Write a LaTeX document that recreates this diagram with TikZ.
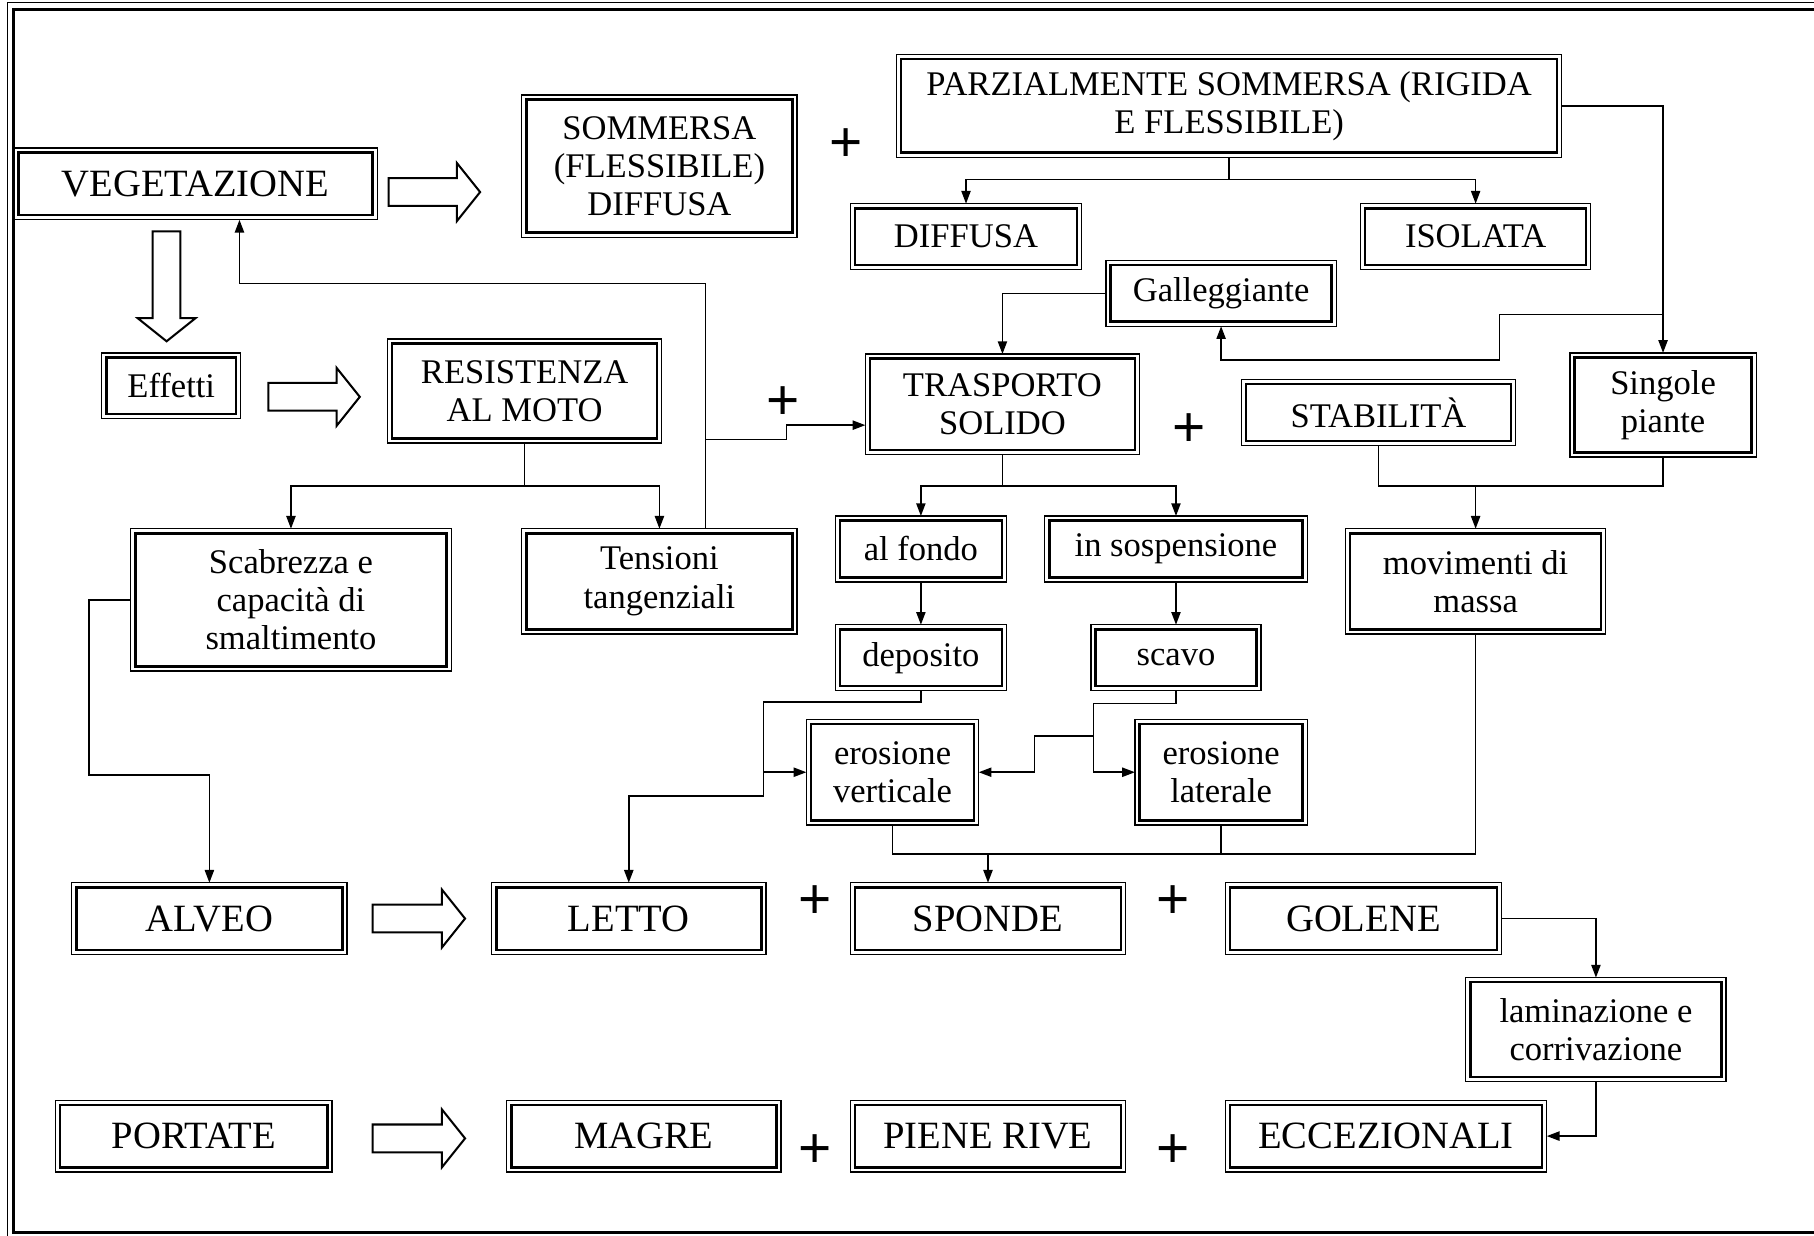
\documentclass[tikz,border=0pt]{standalone}
\usepackage{fontspec}
\setmainfont{Liberation Serif}
\setsansfont{Liberation Sans}
\usetikzlibrary{arrows.meta}

\tikzset{
	box/.style={draw, line width=0.62pt, outer sep=0.04cm, inner sep=0pt, align=center, font=\fontsize{8.5}{9.4}\selectfont},
	bigbox/.style={box, font=\fontsize{9.5}{10}\selectfont},
	link/.style={line width=0.37pt},
	arr/.style={link, -{Triangle[length=0.11cm,width=0.08cm]}},
	pics/blockarr/.style={code={
		\draw[line width=0.5pt, fill=white] (0,-0.12) -- (#1-0.2,-0.12) -- (#1-0.2,-0.25) -- (#1,0) -- (#1-0.2,0.25) -- (#1-0.2,0.12) -- (0,0.12) -- cycle;}}
}

\begin{document}
\begin{tikzpicture}[x=1cm, y=-1cm]
	\useasboundingbox (0,0) rectangle (15.68,10.68);
	% cornice
	\draw[line width=0.37pt] (0.065,10.68) -- (0.065,0.022) -- (15.68,0.022);
	\draw[line width=0.74pt] (15.68,0.078) -- (0.115,0.078) -- (0.115,10.657) -- (15.68,10.657);

	\node[bigbox, minimum width=3.06cm, minimum height=0.54cm] (veg) at (1.69,1.59) {VEGETAZIONE};
	\node[box, minimum width=2.30cm, minimum height=1.15cm] (somm) at (5.70,1.435) {SOMMERSA\\(FLESSIBILE)\\DIFFUSA};
	\node[box, minimum width=5.67cm, minimum height=0.81cm] (parz) at (10.625,0.915) {PARZIALMENTE SOMMERSA (RIGIDA\\E FLESSIBILE)};
	\node[box, minimum width=1.92cm, minimum height=0.49cm] (diff) at (8.35,2.045) {DIFFUSA};
	\node[box, minimum width=1.91cm, minimum height=0.49cm] (isol) at (12.755,2.045) {ISOLATA};
	\node[box, minimum width=1.91cm, minimum height=0.49cm] (gall) at (10.555,2.535) {Galleggiante};
	\node[box, minimum width=1.12cm, minimum height=0.49cm] (eff) at (1.48,3.335) {Effetti};
	\node[box, minimum width=2.29cm, minimum height=0.82cm] (resi) at (4.535,3.38) {RESISTENZA\\AL MOTO};
	\node[box, minimum width=2.29cm, minimum height=0.79cm] (tras) at (8.665,3.495) {TRASPORTO\\SOLIDO};
	\node[box, minimum width=2.29cm, minimum height=0.49cm] (stab) at (11.915,3.565) {STABILITÀ};
	\node[box, minimum width=1.53cm, minimum height=0.82cm] (sing) at (14.375,3.50) {Singole\\piante};
	\node[box, minimum width=2.69cm, minimum height=1.15cm] (scab) at (2.515,5.185) {Scabrezza e\\capacità di\\smaltimento};
	\node[box, minimum width=2.30cm, minimum height=0.83cm] (tens) at (5.70,5.025) {Tensioni\\tangenziali};
	\node[box, minimum width=1.40cm, minimum height=0.49cm] (fondo) at (7.96,4.745) {al fondo};
	\node[box, minimum width=2.19cm, minimum height=0.49cm] (sosp) at (10.165,4.745) {in sospensione};
	\node[box, minimum width=2.17cm, minimum height=0.83cm] (movi) at (12.755,5.025) {movimenti di\\massa};
	\node[box, minimum width=1.40cm, minimum height=0.49cm] (depo) at (7.96,5.685) {deposito};
	\node[box, minimum width=1.39cm, minimum height=0.49cm] (scavo) at (10.165,5.685) {scavo};
	\node[box, minimum width=1.41cm, minimum height=0.83cm] (ever) at (7.715,6.675) {erosione\\verticale};
	\node[box, minimum width=1.41cm, minimum height=0.83cm] (elat) at (10.555,6.675) {erosione\\laterale};
	\node[bigbox, minimum width=2.30cm, minimum height=0.54cm] (alveo) at (1.81,7.94) {ALVEO};
	\node[bigbox, minimum width=2.29cm, minimum height=0.54cm] (letto) at (5.435,7.94) {LETTO};
	\node[bigbox, minimum width=2.30cm, minimum height=0.54cm] (sponde) at (8.54,7.94) {SPONDE};
	\node[bigbox, minimum width=2.31cm, minimum height=0.54cm] (golene) at (11.785,7.94) {GOLENE};
	\node[box, minimum width=2.17cm, minimum height=0.82cm] (lamin) at (13.795,8.90) {laminazione e\\corrivazione};
	\node[bigbox, minimum width=2.31cm, minimum height=0.54cm] (port) at (1.675,9.82) {PORTATE};
	\node[bigbox, minimum width=2.29cm, minimum height=0.54cm] (magre) at (5.565,9.82) {MAGRE};
	\node[bigbox, minimum width=2.30cm, minimum height=0.54cm] (piene) at (8.54,9.82) {PIENE RIVE};
	\node[bigbox, minimum width=2.70cm, minimum height=0.54cm] (ecc) at (11.98,9.82) {ECCEZIONALI};

	% cornice esterna sottile
	\foreach \n in {veg,somm,parz,diff,isol,gall,eff,resi,tras,stab,sing,scab,tens,fondo,sosp,movi,depo,scavo,ever,elat,alveo,letto,sponde,golene,lamin,port,magre,piene,ecc}
		\draw[line width=0.32pt] (\n.south west) rectangle (\n.north east);

	% segni +
	\foreach \i/\x/\y in {1/7.31/1.25, 2/6.77/3.48, 3/10.28/3.72, 4/7.05/7.80, 5/10.14/7.80, 6/7.05/9.95, 7/10.14/9.95}
		\node[font=\sffamily\fontsize{14}{14}\selectfont, inner sep=0pt] (plus\i) at (\x,\y) {+};

	% frecce grandi
	\pic at (3.36,1.66) {blockarr=0.79};
	\pic[rotate=-90] at (1.44,2.00) {blockarr=0.95};
	\pic at (2.32,3.43) {blockarr=0.79};
	\pic at (3.22,7.94) {blockarr=0.80};
	\pic at (3.22,9.84) {blockarr=0.80};

	\coordinate (gsplit) at (14.375,2.72);
	\coordinate (tfb) at (6.10,4.57);
	\coordinate (tsplit) at (6.10,3.80);
	\coordinate (dsplit) at (6.60,6.675);
	\coordinate (ssplit) at (9.45,6.36);
	\coordinate (join) at (8.54,7.38);
	\coordinate (mjoin) at (12.755,4.20);

	\draw[arr] (parz.south) -- ++(0,0.19) -| (diff.north);
	\draw[arr] (parz.south) -- ++(0,0.19) -| (isol.north);
	\draw[arr] (parz.east) -| (sing.north);
	\draw[arr] (gsplit) -- (12.96,2.72) -- (12.96,3.11) -| (gall.south);
	\draw[arr] (gall.west) -| (tras.north);
	\draw[arr] (resi.south) -- ++(0,0.37) -| (scab.north);
	\draw[arr] (resi.south) -- ++(0,0.37) -| (tens.north);
	\draw[arr] (tfb) -- ++(0,-2.12) -| ([xshift=0.38cm]veg.south);
	\draw[arr] (tsplit) -- (6.80,3.80) |- ([yshift=-0.18cm]tras.west);
	\draw[arr] (scab.west) -| (0.77,6.70) -| (alveo.north);
	\draw[arr] (tras.south) -- ++(0,0.27) -| (fondo.north);
	\draw[arr] (tras.south) -- ++(0,0.27) -| (sosp.north);
	\draw[arr] (fondo.south) -- (depo.north);
	\draw[arr] (sosp.south) -- (scavo.north);
	\draw[arr] (depo.south) |- (6.60,6.07) |- (ever.west);
	\draw[arr] (dsplit) |- (5.435,6.88) -- (letto.north);
	\draw[arr] (scavo.south) |- (9.45,6.08) |- (elat.west);
	\draw[arr] (ssplit) -| (8.94,6.675) -- (ever.east);
	\draw[link] (ever.south) |- (12.755,7.38) -- (movi.south);
	\draw[link] (elat.south) -- (10.555,7.38);
	\draw[arr] (join) -- (sponde.north);
	\draw[link] (stab.south) |- (14.375,4.20) -- (sing.south);
	\draw[arr] (mjoin) -- (movi.north);
	\draw[arr] (golene.east) -| (lamin.north);
	\draw[arr] (lamin.south) |- (ecc.east);
\end{tikzpicture}
\end{document}
